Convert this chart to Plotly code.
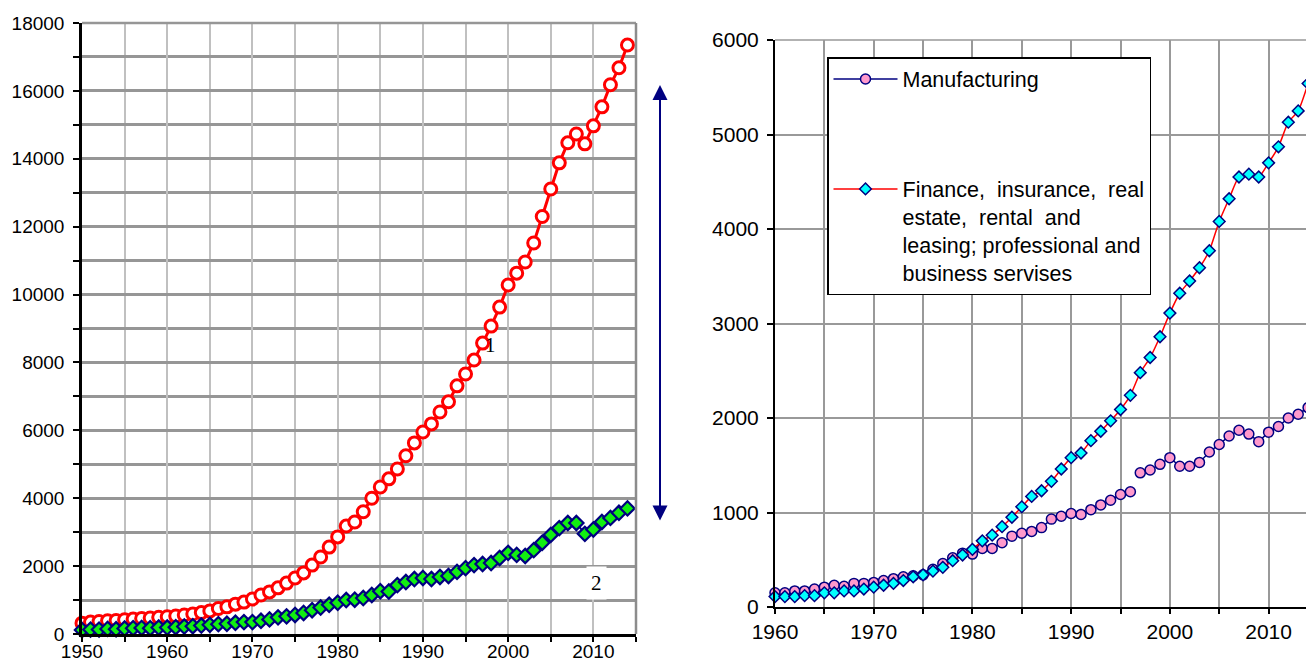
import plotly.graph_objects as go

# ---------------- data ----------------
years_left = list(range(1950, 2015))
series1 = [320, 350, 370, 390, 400, 420, 440, 460, 470, 490,
           510, 530, 560, 590, 630, 680, 750, 800, 880, 940,
           1030, 1150, 1240, 1360, 1500, 1650, 1800, 2030, 2270, 2560,
           2860, 3180, 3300, 3600, 4000, 4330, 4570, 4860, 5250, 5630,
           5950, 6190, 6540, 6840, 7310, 7660, 8070, 8570, 9070, 9630,
           10280, 10630, 10960, 11520, 12300, 13110, 13880, 14470, 14730, 14440,
           14970, 15530, 16180, 16680, 17350]
series2 = [120, 130, 130, 150, 140, 160, 170, 180, 170, 190,
           190, 200, 220, 230, 250, 270, 290, 300, 330, 350,
           350, 390, 430, 490, 520, 560, 620, 700, 780, 860,
           920, 1000, 1010, 1060, 1150, 1260, 1250, 1440, 1530, 1620,
           1650, 1620, 1680, 1710, 1830, 1940, 2030, 2060, 2090, 2240,
           2390, 2330, 2300, 2470, 2690, 2920, 3120, 3270, 3270, 2950,
           3080, 3300, 3420, 3570, 3700]

years_mfg_sic = list(range(1960, 1997))
mfg_sic = [150, 150, 170, 170, 190, 210, 230, 220, 250, 250,
           260, 280, 300, 320, 330, 340, 400, 460, 520, 570,
           560, 620, 620, 680, 750, 780, 800, 840, 930, 960,
           990, 980, 1030, 1080, 1130, 1190, 1220]
years_mfg_naics = list(range(1997, 2015))
mfg_naics = [1420, 1450, 1510, 1580, 1490, 1490, 1530, 1640, 1720, 1810,
             1870, 1830, 1750, 1850, 1910, 2000, 2040, 2110]

years_fin = list(range(1960, 2015))
finance = [110, 110, 110, 120, 120, 150, 150, 170, 170, 190,
           210, 230, 250, 280, 320, 340, 380, 420, 490, 550,
           610, 700, 760, 850, 950, 1060, 1170, 1230, 1330, 1460,
           1580, 1630, 1760, 1860, 1970, 2090, 2240, 2480, 2640, 2860,
           3110, 3320, 3450, 3590, 3770, 4080, 4320, 4550, 4580, 4550,
           4700, 4870, 5130, 5250, 5540]

name_mfg = "Manufacturing"
name_fin = ("Finance,\u00a0 insurance,\u00a0 real<br>estate,\u00a0 rental\u00a0 and<br>"
            "leasing; professional and<br>business servises")

FONT = "Arial, Liberation Sans, sans-serif"
SERIF = "Times New Roman, Liberation Serif, serif"

# page body has an 8px margin: the figure is drawn from (8, 8)
OFF = 8
SW, SH = 1314, 662           # screen size
W, H = SW - OFF, SH - OFF    # figure size


def px_x(p):
    return (p - OFF) / W


def px_y(p):
    return (SH - p) / H


fig = go.Figure()

# left chart
fig.add_trace(go.Scatter(
    x=years_left, y=series1, mode="lines+markers", showlegend=False,
    line=dict(color="#ff0000", width=3),
    marker=dict(symbol="circle", size=12, color="white",
                line=dict(color="#ff0000", width=3)),
    xaxis="x", yaxis="y", cliponaxis=False))
fig.add_trace(go.Scatter(
    x=years_left, y=series2, mode="lines+markers", showlegend=False,
    line=dict(color="#000080", width=2),
    marker=dict(symbol="diamond", size=11, color="#11ee11",
                line=dict(color="#000080", width=2.2)),
    xaxis="x", yaxis="y", cliponaxis=False))

# right chart
mfg_marker = dict(symbol="circle", size=10, color="#ff99cc",
                  line=dict(color="#000080", width=1.5))
fig.add_trace(go.Scatter(
    x=years_mfg_sic, y=mfg_sic, mode="lines+markers", name=name_mfg,
    legendgroup="m", line=dict(color="#000080", width=1.5), marker=mfg_marker,
    xaxis="x2", yaxis="y2", cliponaxis=False))
fig.add_trace(go.Scatter(
    x=years_mfg_naics, y=mfg_naics, mode="lines+markers", name=name_mfg,
    legendgroup="m", showlegend=False,
    line=dict(color="#000080", width=1.5), marker=mfg_marker,
    xaxis="x2", yaxis="y2", cliponaxis=False))
fig.add_trace(go.Scatter(
    x=years_fin, y=finance, mode="lines+markers", name=name_fin,
    legendgroup="f",
    line=dict(color="#ff0000", width=1.5, shape="spline", smoothing=0.6),
    marker=dict(symbol="diamond", size=9, color="#00ffff",
                line=dict(color="#000080", width=1.5)),
    xaxis="x2", yaxis="y2", cliponaxis=False))

# domains (screen-pixel based)
lx0, lx1 = px_x(82), px_x(636)
ly0, ly1 = px_y(634), px_y(23)
rx0, rx1 = px_x(775), 1.0
ry0, ry1 = px_y(607), px_y(40)

tickfont_l = dict(family=FONT, size=19, color="black")
tickfont_r = dict(family=FONT, size=21, color="black")

common = dict(automargin=False, zeroline=False, tickformat="d",
              showline=True, linecolor="black")

fig.update_layout(
    template="none",
    width=W, height=H,
    margin=dict(l=0, r=0, t=0, b=0, pad=0),
    paper_bgcolor="white", plot_bgcolor="white",
    font=dict(family=FONT, size=17, color="black"),
    showlegend=True,
    xaxis=dict(domain=[lx0, lx1], anchor="y", range=[1950, 2015],
               tick0=1950, dtick=10, tickfont=tickfont_l, ticklabelstandoff=-7,
               showgrid=True, gridcolor="#c0c0c0", gridwidth=2,
               ticks="outside", ticklen=5, tickwidth=2, tickcolor="black",
               minor=dict(dtick=5, tick0=1950, showgrid=True, gridcolor="#c0c0c0",
                          gridwidth=2, ticks="outside", ticklen=5, tickwidth=2,
                          tickcolor="black"),
               linewidth=2.5, **common),
    yaxis=dict(domain=[ly0, ly1], anchor="x", range=[0, 18000],
               tick0=0, dtick=2000, tickfont=tickfont_l, ticklabelstandoff=5,
               showgrid=True, gridcolor="#969696", gridwidth=2.5,
               ticks="outside", ticklen=6, tickwidth=2, tickcolor="black",
               minor=dict(dtick=1000, tick0=0, showgrid=True, gridcolor="#969696",
                          gridwidth=2.5, ticks="outside", ticklen=6, tickwidth=2,
                          tickcolor="black"),
               linewidth=2.5, **common),
    xaxis2=dict(domain=[rx0, rx1], anchor="y2", range=[1960, 2014.6],
                tick0=1960, dtick=10, tickfont=tickfont_r, ticklabelstandoff=0,
                showgrid=True, gridcolor="#999999", gridwidth=1.5,
                ticks="outside", ticklen=5, tickwidth=1.5, tickcolor="black",
                minor=dict(dtick=5, tick0=1960, showgrid=True, gridcolor="#999999",
                           gridwidth=1.5, ticks="outside", ticklen=5, tickwidth=1.5,
                           tickcolor="black"),
                linewidth=2, **common),
    yaxis2=dict(domain=[ry0, ry1], anchor="x2", range=[0, 6000],
                tick0=0, dtick=1000, tickfont=tickfont_r, ticklabelstandoff=4,
                showgrid=True, gridcolor="#999999", gridwidth=1.5,
                ticks="outside", ticklen=6, tickwidth=1.5, tickcolor="black",
                linewidth=2, **common),
    legend=dict(x=px_x(827), y=px_y(57), xanchor="left", yanchor="top",
                bgcolor="white", bordercolor="black", borderwidth=1.5,
                font=dict(family=FONT, size=21.5, color="black"),
                itemwidth=64, valign="top", tracegroupgap=79,
                traceorder="grouped"),
    shapes=[
        dict(type="line", xref="paper", yref="paper", x0=lx0, x1=lx1, y0=ly1, y1=ly1,
             line=dict(color="#969696", width=2.5), layer="above"),
        dict(type="line", xref="paper", yref="paper", x0=lx1, x1=lx1, y0=ly0, y1=ly1,
             line=dict(color="#8c8c8c", width=2.5), layer="above"),
        dict(type="line", xref="paper", yref="paper", x0=rx0, x1=rx1, y0=ry1, y1=ry1,
             line=dict(color="#999999", width=1.5), layer="below"),
    ],
    annotations=[
        dict(xref="paper", yref="paper", x=px_x(660), y=px_y(85),
             ax=0, ay=437, axref="pixel", ayref="pixel",
             text="", showarrow=True, arrowside="end+start", arrowhead=2,
             arrowsize=1.5, arrowwidth=2, arrowcolor="#000080"),
        dict(xref="x", yref="y", x=1997.9, y=8500, text="1", showarrow=False,
             font=dict(family=SERIF, size=21, color="black")),
        dict(xref="x", yref="y", x=2010.4, y=1500, text="2", showarrow=False,
             bgcolor="white", borderpad=4,
             font=dict(family=SERIF, size=21, color="black")),
    ],
)

fig.write_html("out.html")
